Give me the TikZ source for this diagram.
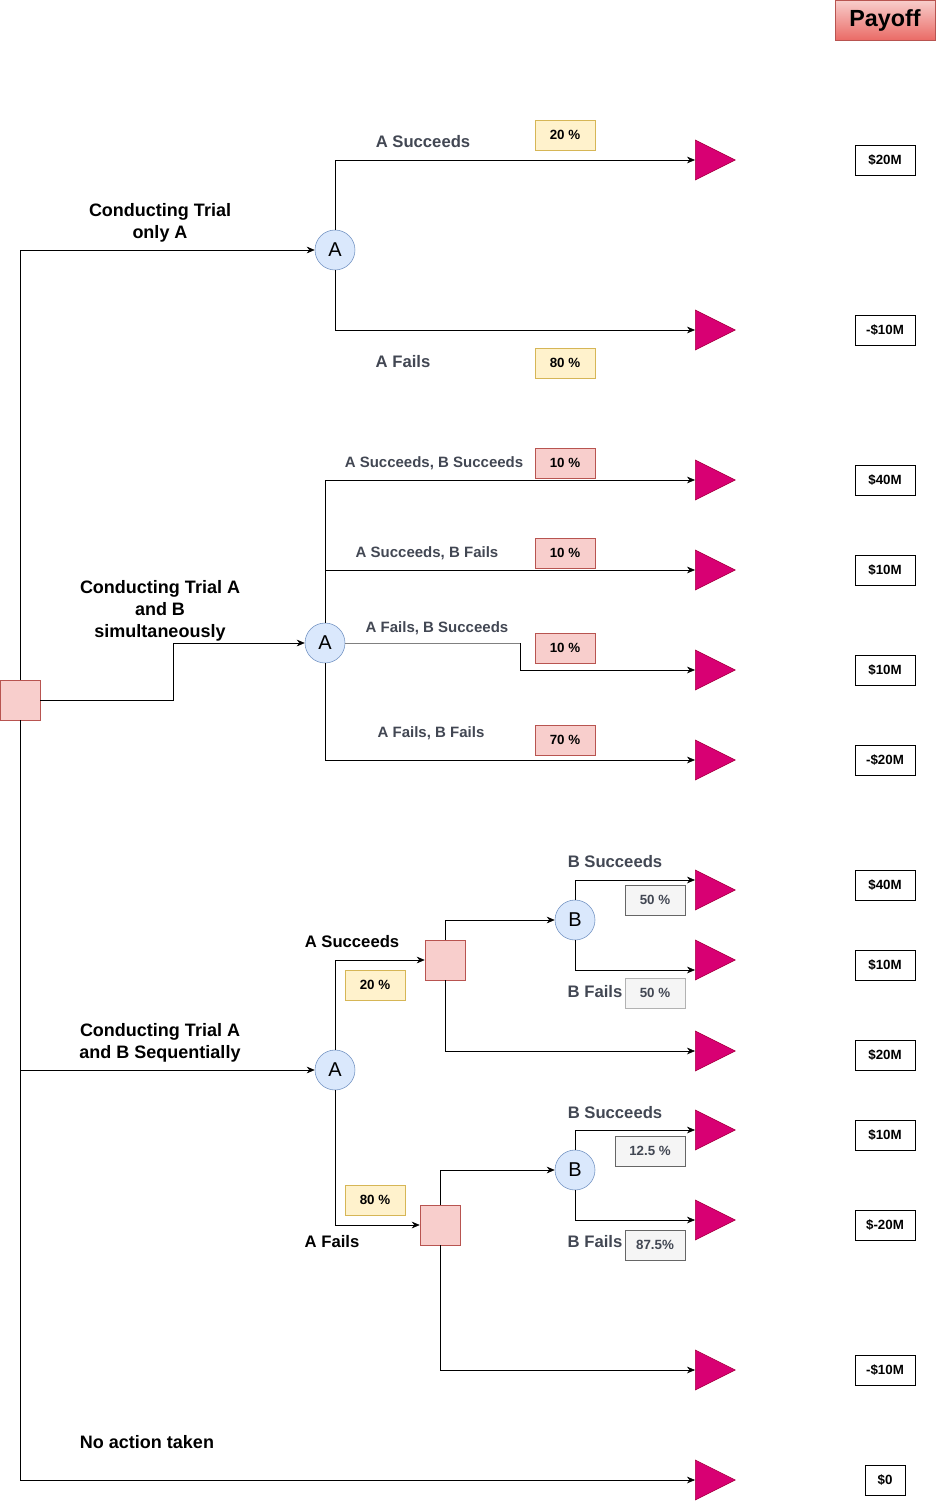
\documentclass[tikz,border=0pt]{standalone}
\usepackage{fontspec}
\setmainfont{Liberation Sans}
\definecolor{ChanceFill}{RGB}{218,232,252}
\definecolor{ChanceLine}{RGB}{108,142,191}
\definecolor{DecFill}   {RGB}{248,206,204}
\definecolor{DecLine}   {RGB}{184,84,80}
\definecolor{EndFill}   {RGB}{216,0,115}
\definecolor{EndLine}   {RGB}{165,0,64}
\definecolor{YelFill}   {RGB}{255,242,204}
\definecolor{YelLine}   {RGB}{214,182,86}
\definecolor{GreyFill}  {RGB}{245,245,245}
\definecolor{GreyLine}  {RGB}{102,102,102}
\definecolor{LabelGrey} {RGB}{66,71,83}
\definecolor{PayoffBot} {RGB}{234,107,102}
\usetikzlibrary{arrows.meta,positioning,shapes.geometric}

\begin{document}
\begin{tikzpicture}[x=0.75pt,y=-0.75pt,
  chance/.style={circle,draw=ChanceLine,fill=ChanceFill,minimum size=30pt,
                 inner sep=0pt,font=\fontsize{15}{15}\selectfont},
  decision/.style={rectangle,draw=DecLine,fill=DecFill,minimum size=30pt,inner sep=0pt},
  endtri/.style={isosceles triangle,isosceles triangle stretches,draw=EndLine,
                 fill=EndFill,minimum width=30pt,minimum height=30pt,inner sep=0pt,anchor=west},
  con/.style={-{Stealth[length=6pt,width=5pt]}},
  title/.style={font=\bfseries\fontsize{13.5}{16.5}\selectfont,align=center},
  lbl/.style={font=\bfseries\fontsize{12.5}{14}\selectfont,text=LabelGrey},
  slbl/.style={font=\bfseries\fontsize{11.25}{12}\selectfont,text=LabelGrey},
  pct/.style={minimum width=45pt,minimum height=22.5pt,inner sep=0pt,
              font=\bfseries\fontsize{10}{10}\selectfont},
  pyel/.style={pct,draw=YelLine,fill=YelFill},
  pred/.style={pct,draw=DecLine,fill=DecFill},
  pgry/.style={pct,draw=GreyLine,fill=GreyFill,text=LabelGrey},
  pay/.style={draw,minimum width=45pt,minimum height=22.5pt,inner sep=0pt,
              font=\bfseries\fontsize{10}{10}\selectfont}]
  \useasboundingbox (0,0) rectangle (936,1501);

  % Header
  \node[draw=DecLine,top color=DecFill,bottom color=PayoffBot,minimum width=75pt,
        minimum height=30pt,inner sep=0pt,font=\bfseries\fontsize{17.5}{17.5}\selectfont]
        (payoff) at (885,20) {Payoff};

  % Decision and chance nodes
  \node[decision] (root) at (20,700) {};
  \node[chance] (a1) at (335,250) {A};
  \node[chance] (a2) at (325,643) {A};
  \node[chance] (a3) at (335,1070) {A};
  \node[decision] (d1) at (445,960) {};
  \node[decision] (d2) at (440,1225) {};
  \node[chance] (b1) at (575,920) {B};
  \node[chance] (b2) at (575,1170) {B};

  % End nodes
  \node[endtri] (t1) at (695,160) {};
  \node[endtri] (t2) at (695,330) {};
  \node[endtri] (t3) at (695,480) {};
  \node[endtri] (t4) at (695,570) {};
  \node[endtri] (t5) at (695,670) {};
  \node[endtri] (t6) at (695,760) {};
  \node[endtri] (t7) at (695,890) {};
  \node[endtri] (t8) at (695,960) {};
  \node[endtri] (t9) at (695,1051) {};
  \node[endtri] (t10) at (695,1130) {};
  \node[endtri] (t11) at (695,1220) {};
  \node[endtri] (t12) at (695,1370) {};
  \node[endtri] (t13) at (695,1480) {};

  % Payoffs
  \node[pay] (p1) at (885,160) {\$20M};
  \node[pay] (p2) at (885,330) {-\$10M};
  \node[pay] (p3) at (885,480) {\$40M};
  \node[pay] (p4) at (885,570) {\$10M};
  \node[pay] (p5) at (885,670) {\$10M};
  \node[pay] (p6) at (885,760) {-\$20M};
  \node[pay] (p7) at (885,885) {\$40M};
  \node[pay] (p8) at (885,965) {\$10M};
  \node[pay] (p9) at (885,1055) {\$20M};
  \node[pay] (p10) at (885,1135) {\$10M};
  \node[pay] (p11) at (885,1225) {\$-20M};
  \node[pay] (p12) at (885,1370) {-\$10M};
  \node[pay,minimum width=30pt] (p13) at (885,1480) {\$0};

  % Branch labels
  \node[title] (l1) at (160,223) {Conducting Trial\\only A};
  \node[title] (l2) at (160,611) {Conducting Trial A\\and B\\simultaneously};
  \node[title] (l3) at (160,1043) {Conducting Trial A\\and B Sequentially};
  \node[title] (l4) at (147,1442) {No action taken};

  \node[lbl] (s1) at (423,142) {A Succeeds};
  \node[lbl] (f1) at (403,362) {A Fails};
  \node[pyel] (q1) at (565,135) {20 \%};
  \node[pyel] (q2) at (565,363) {80 \%};

  \node[slbl] (s2) at (434,463) {A Succeeds, B Succeeds};
  \node[slbl] (s3) at (427,553) {A Succeeds, B Fails};
  \node[slbl] (s4) at (437,628) {A Fails, B Succeeds};
  \node[slbl] (s5) at (431,733) {A Fails, B Fails};
  \node[pred] (q3) at (565,463) {10 \%};
  \node[pred] (q4) at (565,553) {10 \%};
  \node[pred] (q5) at (565,648) {10 \%};
  \node[pred] (q6) at (565,740) {70 \%};

  \node[title,font=\bfseries\fontsize{12.5}{14}\selectfont] (s6) at (352,942) {A Succeeds};
  \node[title,font=\bfseries\fontsize{12.5}{14}\selectfont] (f6) at (332,1242) {A Fails};
  \node[pyel] (q7) at (375,985) {20 \%};
  \node[pyel] (q8) at (375,1200) {80 \%};
  \node[lbl] (s7) at (615,862) {B Succeeds};
  \node[lbl] (f7) at (595,992) {B Fails};
  \node[lbl] (s8) at (615,1113) {B Succeeds};
  \node[lbl] (f8) at (595,1242) {B Fails};
  \node[pgry] (q9) at (655,900) {50 \%};
  \node[pgry,draw=gray!60] (q10) at (655,993) {50 \%};
  \node[pgry,minimum width=52.5pt] (q11) at (650,1151) {12.5 \%};
  \node[pgry] (q12) at (655,1245) {87.5\%};

  % Connectors
  \draw[con] (root.north) |- (a1);
  \draw[con] (root.east) -- ++(133,0) |- (a2);
  \draw[con] (root.south) |- (a3);
  \draw[con] (root.south) |- (t13);

  \draw[con] (a1.north) |- (t1);
  \draw[con] (a1.south) |- (t2);

  \draw[con] (a2.north) |- (t3);
  \draw[con] (a2.north) |- (t4);
  \draw[gray] (a2.east) -- ++(175,0) coordinate (k5);
  \draw[con] (k5) |- (t5);
  \draw[con] (a2.south) |- (t6);

  \draw[con] (a3.north) |- (d1);
  \draw[con] (d1.north) |- (b1);
  \draw[con] (b1.north) |- ([yshift=7.5pt]t7.west);
  \draw[con] (b1.south) |- ([yshift=-7.5pt]t8.west);
  \draw[con] (d1.south) |- (t9);

  \draw[con] (a3.south) |- (d2);
  \draw[con] (d2.north) |- (b2);
  \draw[con] (b2.north) |- (t10);
  \draw[con] (b2.south) |- (t11);
  \draw[con] (d2.south) |- (t12);
\end{tikzpicture}
\end{document}
